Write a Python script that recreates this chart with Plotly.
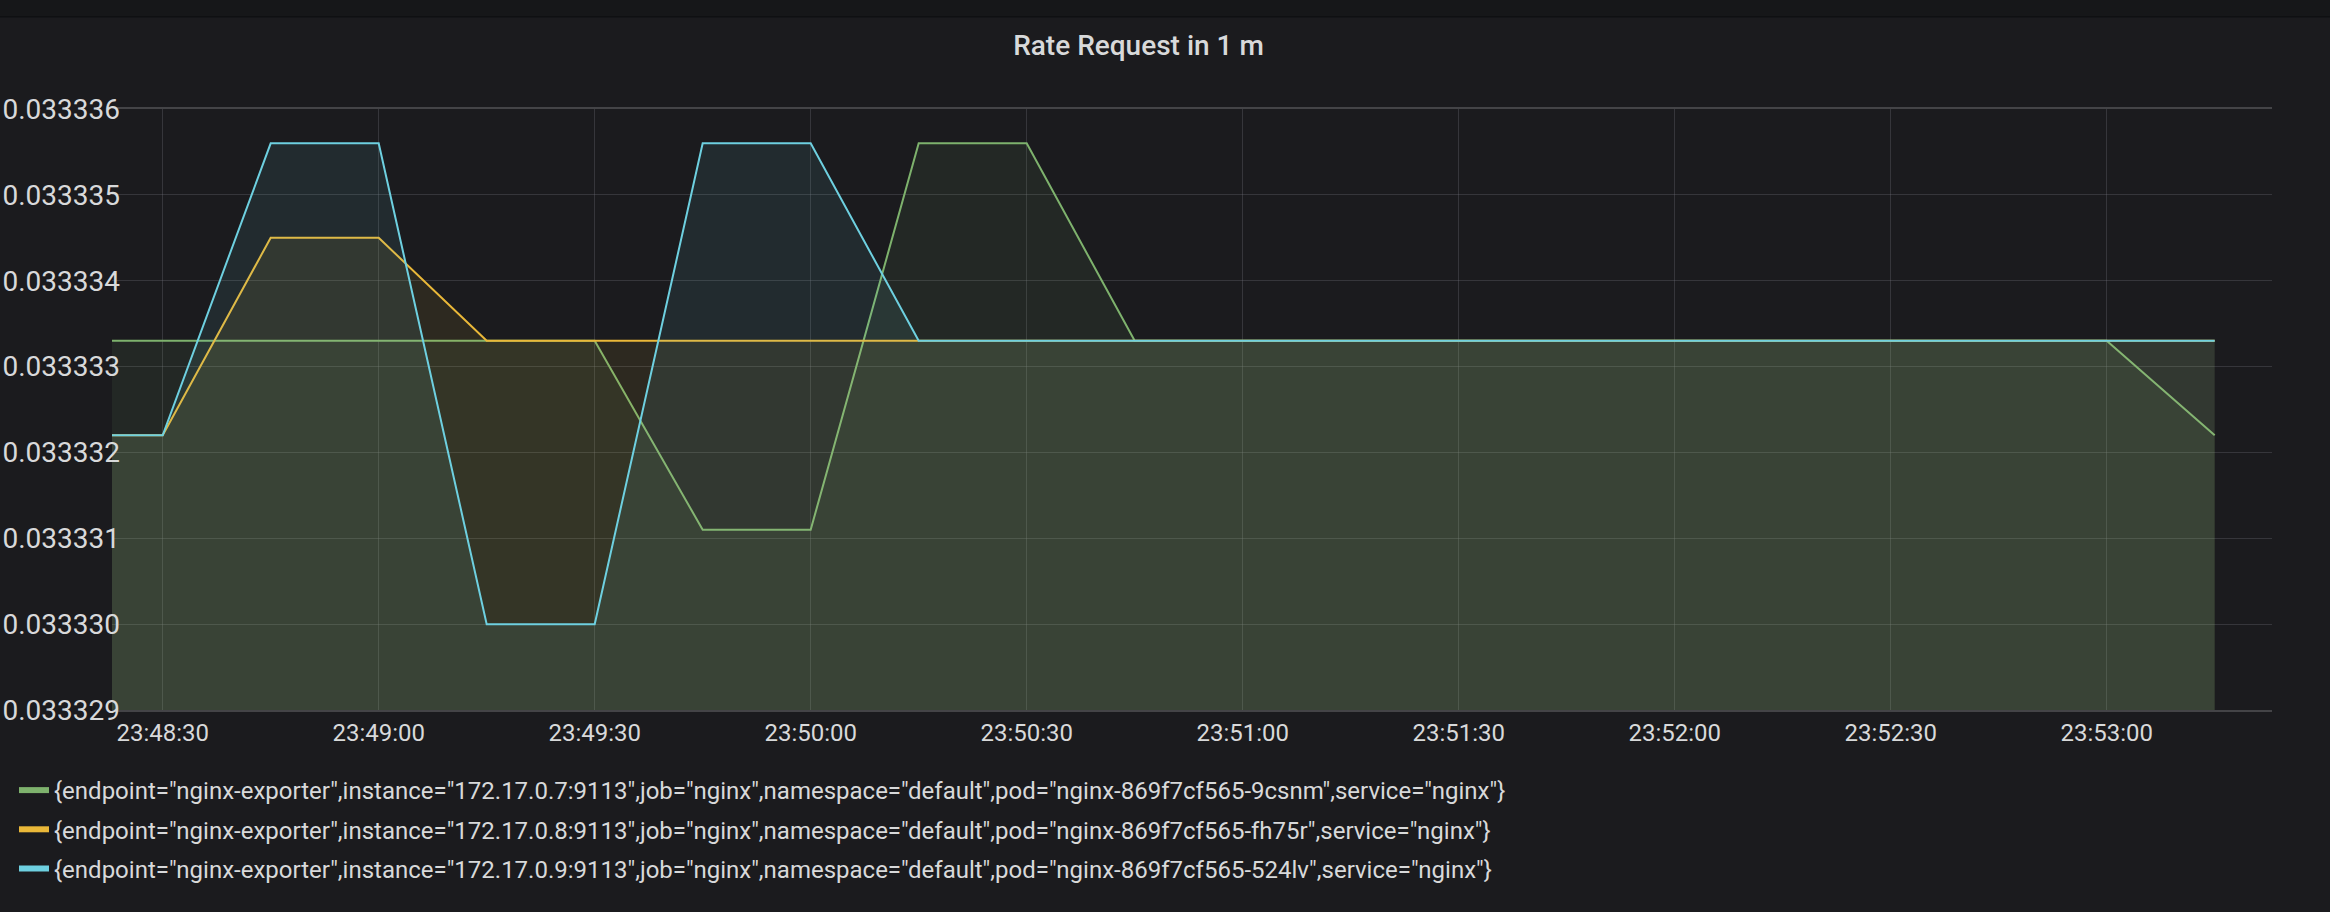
import plotly.graph_objects as go

# ---- data ----
DAY = "2020-04-01 "
times = ["23:48:15", "23:48:30", "23:48:45", "23:49:00", "23:49:15", "23:49:30",
         "23:49:45", "23:50:00", "23:50:15", "23:50:30", "23:50:45", "23:51:00",
         "23:51:15", "23:51:30", "23:51:45", "23:52:00", "23:52:15", "23:52:30",
         "23:52:45", "23:53:00", "23:53:15"]

green_9csnm = [0.0333333, 0.0333333, 0.0333333, 0.0333333, 0.0333333, 0.0333333,
               0.0333311, 0.0333311, 0.0333356, 0.0333356, 0.0333333, 0.0333333,
               0.0333333, 0.0333333, 0.0333333, 0.0333333, 0.0333333, 0.0333333,
               0.0333333, 0.0333333, 0.0333322]
yellow_fh75r = [0.0333322, 0.0333322, 0.0333345, 0.0333345, 0.0333333, 0.0333333,
                0.0333333, 0.0333333, 0.0333333, 0.0333333, 0.0333333, 0.0333333,
                0.0333333, 0.0333333, 0.0333333, 0.0333333, 0.0333333, 0.0333333,
                0.0333333, 0.0333333, 0.0333333]
cyan_524lv = [0.0333322, 0.0333322, 0.0333356, 0.0333356, 0.0333300, 0.0333300,
              0.0333356, 0.0333356, 0.0333333, 0.0333333, 0.0333333, 0.0333333,
              0.0333333, 0.0333333, 0.0333333, 0.0333333, 0.0333333, 0.0333333,
              0.0333333, 0.0333333, 0.0333333]

series_names = [
    '{endpoint="nginx-exporter",instance="172.17.0.7:9113",job="nginx",namespace="default",pod="nginx-869f7cf565-9csnm",service="nginx"}',
    '{endpoint="nginx-exporter",instance="172.17.0.8:9113",job="nginx",namespace="default",pod="nginx-869f7cf565-fh75r",service="nginx"}',
    '{endpoint="nginx-exporter",instance="172.17.0.9:9113",job="nginx",namespace="default",pod="nginx-869f7cf565-524lv",service="nginx"}',
]
series_values = [green_9csnm, yellow_fh75r, cyan_524lv]
line_colors = ["#7EB26D", "#EAB839", "#6ED0E0"]
fill_colors = ["rgba(126,178,109,0.09)", "rgba(234,184,57,0.09)", "rgba(110,208,224,0.09)"]

title_text = "Rate Request in 1 m"
x_range = [DAY + "23:48:22.96", DAY + "23:53:22.96"]
y_range = [0.033329, 0.033336]

BG = "#1b1b1e"
TXT = "#d8d9da"
FONT = "Roboto, Helvetica Neue, Arial, sans-serif"
GRID = "rgba(120,120,130,0.3)"

x = [DAY + t for t in times]

fig = go.Figure()
for name, vals, lc, fc in zip(series_names, series_values, line_colors, fill_colors):
    fig.add_trace(go.Scatter(
        x=x, y=vals, mode="lines", name=name,
        line=dict(color=lc, width=2),
        fill="tozeroy", fillcolor=fc,
        showlegend=False, hoverinfo="skip",
    ))
# legend entries
for i, (name, lc) in enumerate(zip(series_names, line_colors)):
    fig.add_trace(go.Scatter(
        x=[None], y=[None], mode="lines", name=name,
        line=dict(color=lc, width=6),
        legendgroup=f"g{i}", showlegend=True,
    ))

W, H = 2330, 912
ML, MR, MT, MB = 112, 58, 109, 202
plot_h = H - MT - MB
plot_w = W - ML - MR


def py(p):
    return (H - MB - p) / plot_h


def px(q):
    return (q - ML) / plot_w


fig.update_layout(
    width=W, height=H,
    paper_bgcolor=BG, plot_bgcolor=BG,
    margin=dict(l=ML, r=MR, t=MT, b=MB, autoexpand=False),
    font=dict(family=FONT, color=TXT, size=24),
    title=dict(text=title_text, x=1138.5 / W, xref="container", xanchor="center",
               y=1 - 45 / H, yref="container", yanchor="middle",
               font=dict(size=28, color=TXT, family=FONT, weight=500)),
    xaxis=dict(type="date", range=x_range, tickformat="%H:%M:%S",
               dtick=30000, tick0=DAY + "23:48:30",
               showgrid=True, gridcolor=GRID, gridwidth=1,
               showline=True, linecolor="#444447", linewidth=2, mirror=True,
               zeroline=False, ticks="", tickfont=dict(size=24, color=TXT)),
    yaxis=dict(range=y_range, dtick=1e-6, tick0=0.033329, tickformat=".6f",
               showgrid=True, gridcolor=GRID, gridwidth=1,
               showline=False, zeroline=False, ticks="",
               ticklabelstandoff=-9,
               tickfont=dict(size=28, color=TXT)),
    legend=dict(xref="container", yref="container", x=14 / W, y=(H - 768) / H,
                xanchor="left", yanchor="top", orientation="v",
                bgcolor="rgba(0,0,0,0)", font=dict(size=24, color=TXT),
                tracegroupgap=5, traceorder="grouped"),
    shapes=[
        dict(type="rect", xref="paper", yref="paper", x0=px(-5), x1=px(W + 5),
             y0=py(0) + 0.01, y1=py(16), fillcolor="#161719", line=dict(width=0), layer="below"),
        dict(type="rect", xref="paper", yref="paper", x0=px(-5), x1=px(W + 5),
             y0=py(16), y1=py(17.5), fillcolor="#0f1012", line=dict(width=0), layer="below"),
    ],
    hovermode=False,
)

fig.write_html("out.html")
